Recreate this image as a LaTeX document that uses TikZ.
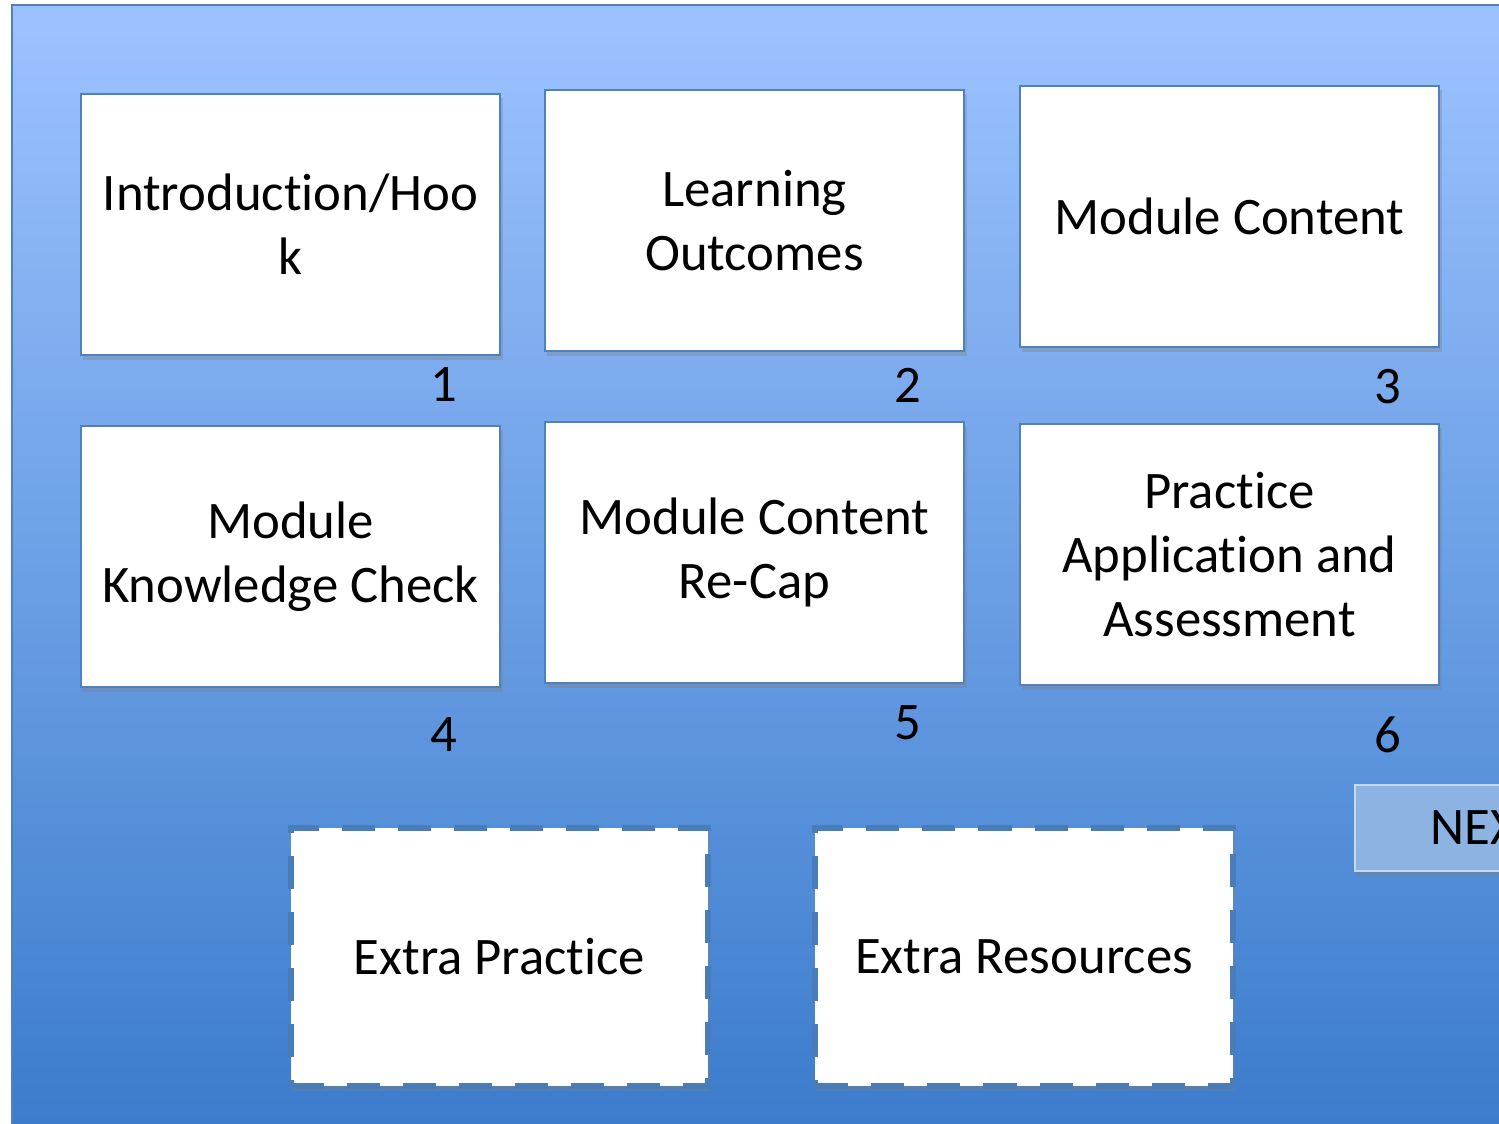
\documentclass[tikz,border=0pt]{standalone}
\usepackage{fontspec}
\setmainfont[Ligatures=NoCommon]{Carlito}
\usetikzlibrary{shadows}
\definecolor{bgtop}{HTML}{9DC3FF}
\definecolor{bgbot}{HTML}{3A7BCB}
\definecolor{boxline}{HTML}{4F81BD}
\definecolor{dashline}{HTML}{497DBA}
\definecolor{nextfill}{HTML}{8DB3E2}
\definecolor{nextline}{HTML}{C6D9F1}
\begin{document}
\begin{tikzpicture}[x=0.01cm,y=-0.01cm,
  every node/.style={font=\fontsize{15}{18.2}\selectfont, text=black},
  cardbox/.style={draw=boxline, line width=0.6pt, fill=white, align=center,
    minimum width=4.19cm, minimum height=2.61cm, inner sep=0pt,
    drop shadow={shadow xshift=0.25mm, shadow yshift=-0.45mm, opacity=0.35}},
  extrabox/.style={draw=dashline, line width=1.7pt, fill=white, align=center,
    dash pattern=on 0.33cm off 0.23cm,
    minimum width=4.17cm, minimum height=2.58cm, inner sep=0pt,
    drop shadow={shadow xshift=0.2mm, shadow yshift=-0.5mm, opacity=0.35}},
  numlabel/.style={inner sep=0pt},
  nextbox/.style={draw=nextline, line width=0.7pt, fill=nextfill, anchor=west,
    minimum height=0.86cm, minimum width=2.0cm, inner sep=0pt,
    drop shadow={shadow xshift=0.2mm, shadow yshift=-0.5mm, opacity=0.35}}]
\useasboundingbox (0,0) rectangle (1499,1124);
\clip (0,0) rectangle (1499,1124);
\fill[white] (0,0) rectangle (1499,1124);
\shade[top color=bgtop, bottom color=bgbot, draw=boxline, line width=0.4pt]
  (12,5) rectangle (1520,1140);

\node[cardbox] (b1) at (290.5,224.5) {Introduction/Hoo\\k};
\node[cardbox] (b2) at (754.5,220.5) {Learning\\Outcomes};
\node[cardbox] (b3) at (1229.5,216.5) {Module Content};
\node[cardbox] (b4) at (290.5,556.5) {\raisebox{-3pt}{\parbox{4cm}{\centering Module\\Knowledge Check}}};
\node[cardbox] (b5) at (754.5,552.5) {Module Content\\Re-Cap};
\node[cardbox] (b6) at (1229.5,554.5) {Practice\\Application and\\Assessment};

\node[numlabel] (n1) at (444,385) {1};
\node[numlabel] (n2) at (908,385) {2};
\node[numlabel] (n3) at (1388,387) {3};
\node[numlabel] (n4) at (444,735) {4};
\node[numlabel] (n5) at (908,723) {5};
\node[numlabel] (n6) at (1388,735) {6};

\node[extrabox] (e1) at (499.5,957) {\raisebox{-3pt}{Extra Practice}};
\node[extrabox] (e2) at (1024,957) {\raisebox{-3pt}{Extra Resources}};

\node[nextbox] (next) at (1354,828) {\hspace{0.63cm}NEXT};
\end{tikzpicture}
\end{document}
